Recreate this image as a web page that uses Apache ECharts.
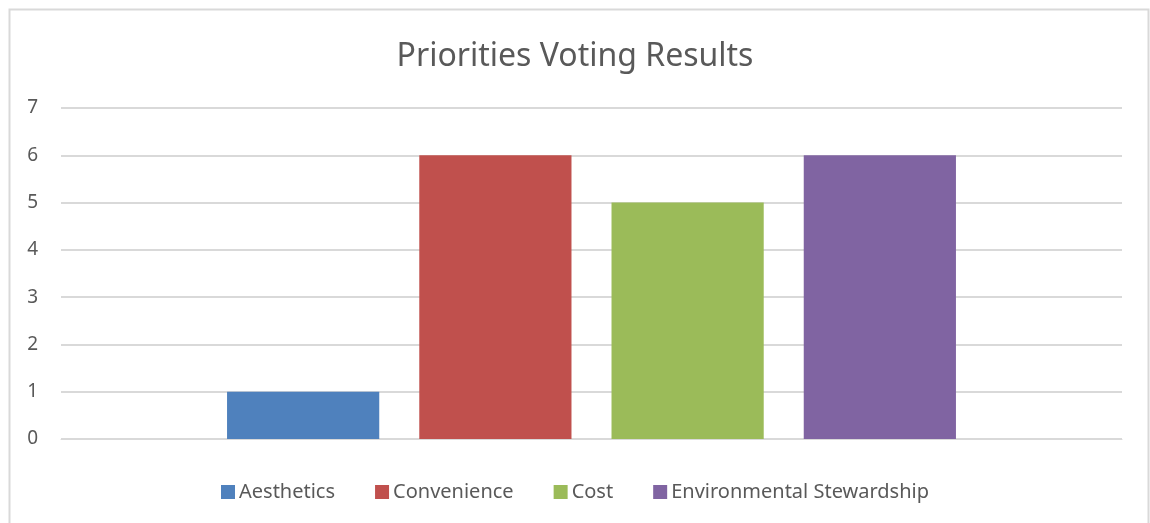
<!DOCTYPE html>
<html>
<head>
<meta charset="utf-8">
<script src="https://cdn.jsdelivr.net/npm/echarts@6/dist/echarts.min.js"></script>
<style>
  html, body { margin: 0; padding: 0; background: #fff; }
  #chart { width: 1150px; height: 523px; }
</style>
</head>
<body>
<div id="chart"></div>
<script>
// Voting tallies, one bar per priority
const categories = [''];
const seriesNames = ['Aesthetics', 'Convenience', 'Cost', 'Environmental Stewardship'];
const aesthetics = [1];
const convenience = [6];
const cost = [5];
const environmentalStewardship = [6];
const yTicks = [0, 1, 2, 3, 4, 5, 6, 7];

const colors = ['#4F81BD', '#C0504D', '#9BBB59', '#8064A2'];
const values = [aesthetics, convenience, cost, environmentalStewardship];
const font = '"Noto Sans", sans-serif';

const chart = echarts.init(document.getElementById('chart'), null, { renderer: 'canvas' });
chart.setOption({
  animation: false,
  backgroundColor: '#fff',
  color: colors,
  title: {
    text: 'Priorities Voting Results',
    left: 'center',
    top: 36,
    textStyle: { fontFamily: font, fontSize: 32, fontWeight: 'normal', color: '#595959' }
  },
  legend: {
    top: 477,
    left: 'center',
    itemWidth: 14,
    itemHeight: 14,
    itemGap: 40,
    icon: 'rect',
    data: seriesNames,
    textStyle: { fontFamily: font, fontSize: 20, color: '#595959', padding: [0, 0, 0, -1] }
  },
  grid: { left: 61, right: 28, top: 108, bottom: 84, containLabel: false },
  xAxis: {
    type: 'category',
    data: categories,
    axisLine: { show: true, lineStyle: { color: '#d9d9d9', width: 1 } },
    axisTick: { show: false },
    axisLabel: { show: false }
  },
  yAxis: {
    type: 'value',
    min: yTicks[0],
    max: yTicks[yTicks.length - 1],
    interval: 1,
    axisLine: { show: false },
    axisTick: { show: false },
    axisLabel: { fontFamily: font, fontSize: 19, color: '#595959', margin: 23 },
    splitLine: { lineStyle: { color: '#d9d9d9', width: 2 } }
  },
  series: seriesNames.map((name, i) => ({
    name,
    type: 'bar',
    data: values[i],
    barGap: '26.3%',
    barCategoryGap: '31.3%',
    itemStyle: { color: colors[i] }
  })),
  graphic: [{
    type: 'rect',
    shape: { x: 9.5, y: 9.5, width: 1139, height: 600 },
    style: { fill: 'none', stroke: '#d9d9d9', lineWidth: 2 },
    silent: true,
    z: -1
  }]
});
</script>
</body>
</html>
